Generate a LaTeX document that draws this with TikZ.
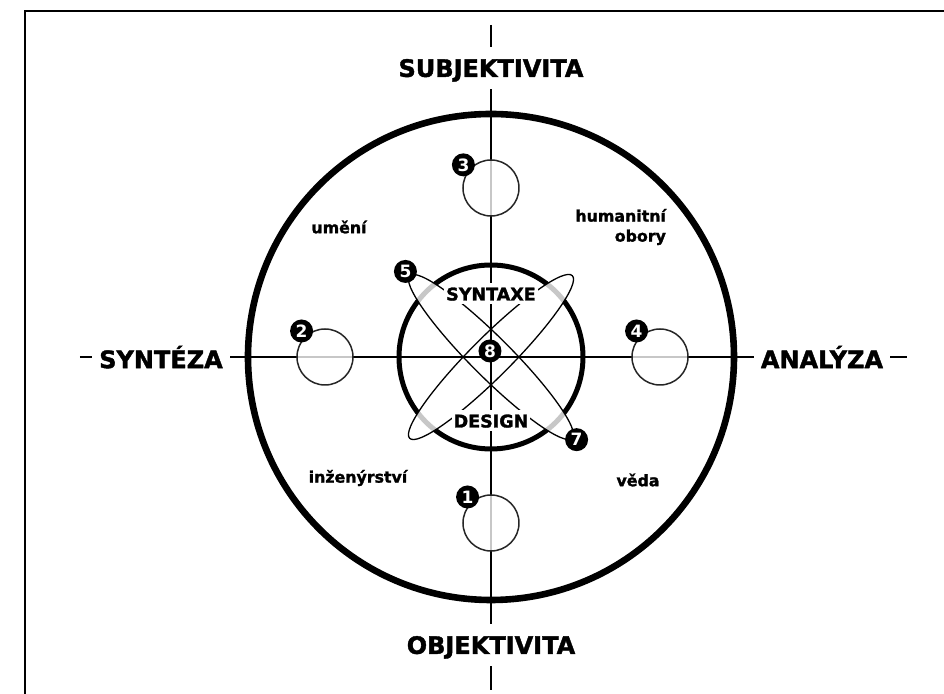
\documentclass[tikz,border=0pt]{standalone}
\usepackage{fontspec}
\setmainfont{DejaVu Sans}
\newfontfamily\heavyfont{DejaVu Sans Bold}[FakeBold=1.6]
\usetikzlibrary{calc}
\definecolor{ringgray}{rgb}{0.15,0.15,0.15}

\begin{document}
\begin{tikzpicture}[x=0.5pt, y=0.5pt,
    axis/.style={line width=0.75pt},
    pole/.style={fill=white, inner xsep=3.5pt, inner ysep=6pt, text depth=0pt, font=\fontsize{12}{14}\heavyfont},
    field/.style={font=\fontsize{7.9}{10}\heavyfont},
    tag/.style={fill=white, inner xsep=1pt, inner ysep=2pt, text depth=0pt, font=\fontsize{8.75}{10}\heavyfont},
    ring/.style={circle, fill=white, fill opacity=0.78, minimum size=28pt, inner sep=0pt},
    ringline/.style={draw=ringgray, line width=0.75pt},
    badge/.style={circle, fill=black, text=white, inner sep=0pt, minimum size=11.5pt, font=\fontsize{8.5}{9}\bfseries}]
    \useasboundingbox (-491,-337) rectangle (453,357);
    % frame
    \draw[line width=1.3pt] (-466,-345) -- (-466,346) -- (460,346);
    % rings
    \draw[line width=3.3pt] (0,0) circle (243);
    \draw[line width=2.5pt] (0,0) circle (92);
    % ellipses
    \fill[white, fill opacity=0.78, rotate=45] (0,0) ellipse [x radius=115, y radius=20];
    \fill[white, fill opacity=0.78, rotate=-45] (0,0) ellipse [x radius=115, y radius=20];
    \draw[line width=0.65pt, rotate=45] (0,0) ellipse [x radius=115, y radius=20];
    \draw[line width=0.65pt, rotate=-45] (0,0) ellipse [x radius=115, y radius=20];
    % axes
    \coordinate (ntop) at (0,332);
    \coordinate (nbot) at (0,-333);
    \coordinate (wend) at (-411,0);
    \coordinate (eend) at (416,0);
    \draw[axis] (ntop) -- (nbot);
    \draw[axis] (wend) -- (eend);
    \node[ring] (c1) at (0,-166) {};
    \node[ring] (c2) at (-166,0) {};
    \node[ring] (c3) at (0,169) {};
    \node[ring] (c4) at (169,0) {};
    \foreach \c in {c1,c2,c3,c4}
        \draw[ringline] (\c.center) circle (28);
    \node[pole] (subj) at (0,289) {SUBJEKTIVITA};
    \node[pole] (obj) at (0,-288) {OBJEKTIVITA};
    \node[pole] (synt) at (-330,0) {SYNTÉZA};
    \node[pole] (anal) at (331,0) {ANALÝZA};
    \node[field] (umeni) at (-152,130) {umění};
    \node[field, align=right, anchor=east] (human) at (182,130) {humanitní\\obory};
    \node[field] (inzen) at (-133,-121) {inženýrství};
    \node[field] (veda) at (147,-123) {věda};
    \node[tag] (syntaxe) at (0,63) {SYNTAXE};
    \node[tag] (design) at (0,-64) {DESIGN};
    \node[badge] (b1) at ($(c1)+(132:35)$) {1};
    \node[badge] (b2) at ($(c2)+(132:35)$) {2};
    \node[badge] (b3) at ($(c3)+(140:36)$) {3};
    \node[badge] (b4) at ($(c4)+(132:35)$) {4};
    \node[badge] (b5) at (135:121) {5};
    \node[badge] (b7) at (-44:119) {7};
    \node[badge] (b8) at (-1,6) {8};
\end{tikzpicture}
\end{document}
